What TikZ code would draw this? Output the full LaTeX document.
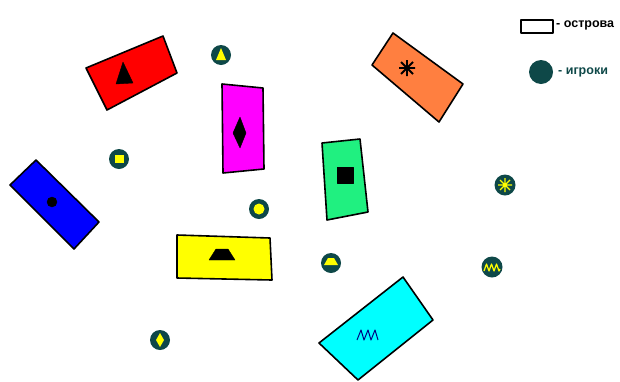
\documentclass[tikz,border=0pt]{standalone}
\usepackage{fontspec}
\setmainfont{Liberation Sans}
\begin{document}
\begin{tikzpicture}[x=1pt,y=-1pt,line join=round]
\definecolor{plr}{HTML}{0E4848}
\definecolor{isred}{HTML}{FF0000}
\definecolor{ismag}{HTML}{FF00FF}
\definecolor{isora}{HTML}{FF7F40}
\definecolor{isblu}{HTML}{0000FF}
\definecolor{isgrn}{HTML}{20F080}
\definecolor{isyel}{HTML}{FFFF00}
\definecolor{iscya}{HTML}{00FFFF}
\definecolor{sym}{HTML}{FFFF00}
\tikzset{
  island/.style={draw=black,line width=1.6pt},
  isymb/.style={fill=black,draw=black},
  player/.style={fill=plr,draw=none},
  psym/.style={fill=sym,draw=none},
  pline/.style={draw=sym,line width=1.2pt},
  legend/.style={font=\bfseries\fontsize{12.5}{14}\selectfont,anchor=west,inner sep=0pt}
}
\useasboundingbox (0,0) rectangle (620,381);
% islands
\draw[island,fill=isred] (86,68) -- (163,36) -- (177,73) -- (107,110) -- cycle;
\fill[isymb] (123,62) -- (116,84) -- (133,83) -- cycle;
\draw[island,fill=ismag] (222,84) -- (263,88) -- (264,169) -- (223,173) -- cycle;
\fill[isymb] (240,117) -- (246,133) -- (240,148) -- (233,133) -- cycle;
\draw[island,fill=isora] (393,33) -- (463,84) -- (439,122) -- (372,65) -- cycle;
\draw[line width=1.8pt] (399,68) -- (415,68) (407,60) -- (407,76) (401,62) -- (413,74) (401,74) -- (413,62);
\draw[island,fill=isblu] (36,160) -- (99,222) -- (74,249) -- (10,185) -- cycle;
\fill[isymb] (52,202) circle (5);
\draw[island,fill=isgrn] (322,143) -- (360,139) -- (368,212) -- (327,220) -- cycle;
\fill[isymb] (337,167) rectangle (353,183);
\draw[island,fill=isyel] (177,235) -- (270,238) -- (272,280) -- (177,278) -- cycle;
\fill[isymb] (216,249) -- (228,249) -- (235,260) -- (209,260) -- cycle;
\draw[island,fill=iscya] (403,277) -- (433,320) -- (358,380) -- (319,343) -- cycle;
\draw[draw=blue!50!black,line width=1pt] (357,340) -- (361,330) -- (364,340) -- (368,330) -- (371,340) -- (375,330) -- (378,340);
% players
\fill[player] (221,55) circle (10);
\fill[psym] (221,48) -- (226,60) -- (216,60) -- cycle;
\fill[player] (119,159) circle (10);
\fill[psym] (115,155) rectangle (124,163);
\fill[player] (259,209) circle (10);
\fill[psym] (259,209) circle (5.5);
\fill[player] (505,185) circle (10.5);
\draw[pline] (498,185) -- (512,185) (505,178) -- (505,192) (500,180) -- (510,190) (500,190) -- (510,180);
\fill[player] (331,263) circle (10);
\fill[psym] (328,258) -- (334,258) -- (338,265) -- (324,265) -- cycle;
\fill[player] (492,267) circle (10.5);
\draw[pline] (484,271) -- (486.5,264) -- (489,271) -- (491.5,264) -- (494,271) -- (496.5,264) -- (499,271) -- (500,269);
\fill[player] (160,340) circle (10);
\fill[psym] (160,333) -- (164,340) -- (160,347) -- (156,340) -- cycle;
% legend
\draw[line width=1.6pt,fill=white] (521,20) rectangle (553,33);
\node[legend,text=black] (l1) at (556,25) {- острова};
\fill[player] (541,72) circle (12);
\node[legend,text=plr] (l2) at (558,72) {- игроки};
\end{tikzpicture}
\end{document}
